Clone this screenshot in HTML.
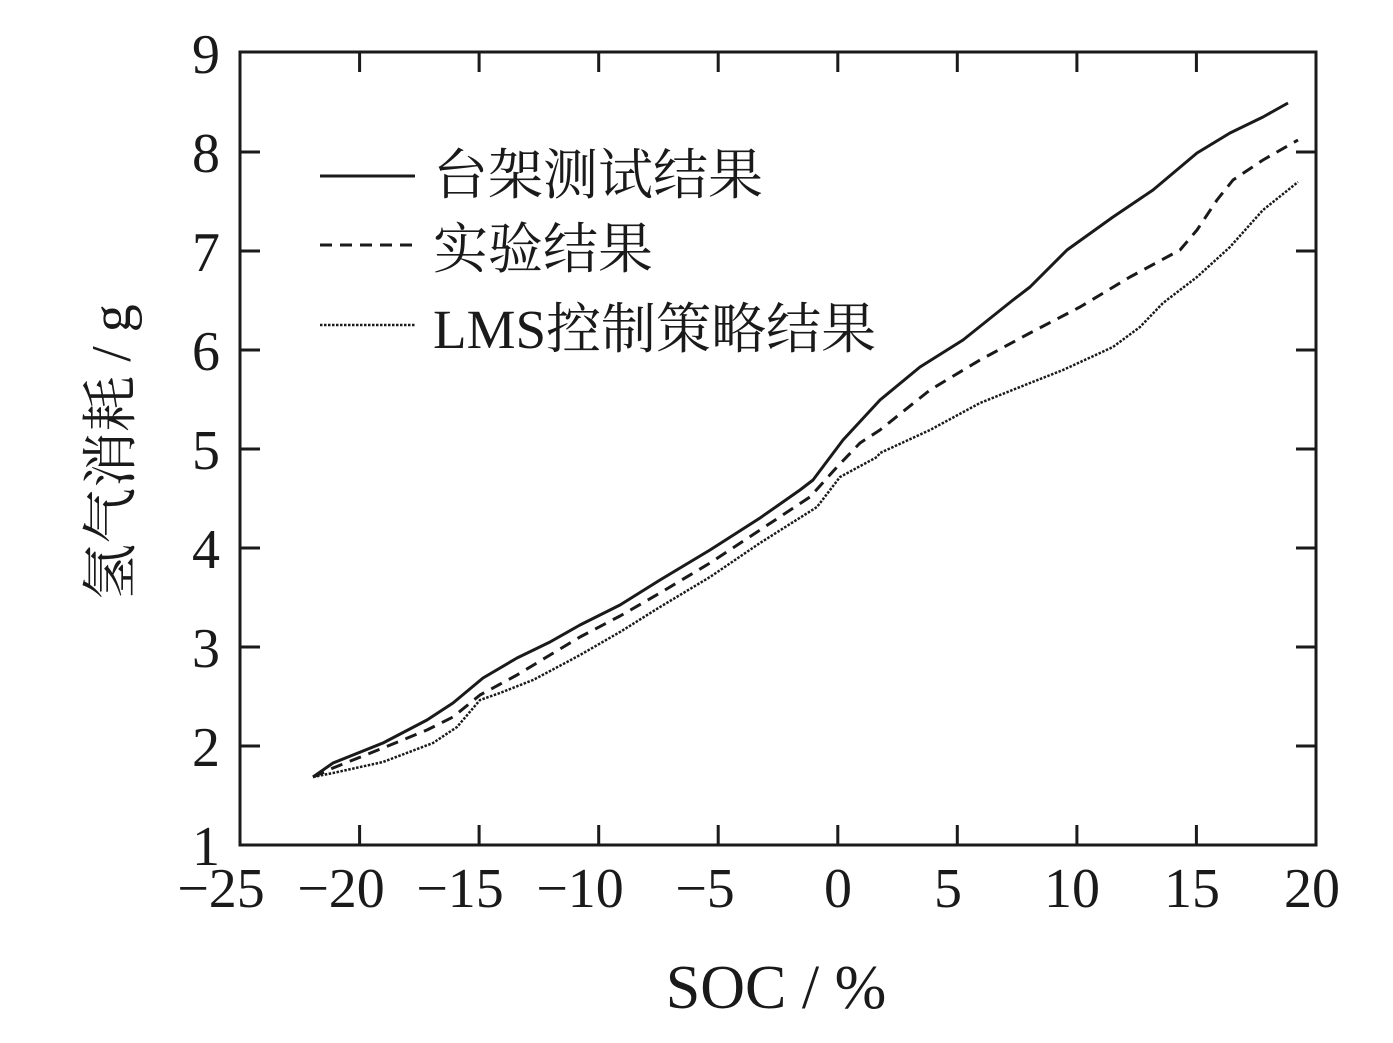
<!DOCTYPE html>
<html><head><meta charset="utf-8"><style>
html,body{margin:0;padding:0;background:#fff;}
svg{display:block;}
text{font-family:"Liberation Serif","Noto Serif CJK SC",serif;fill:#1a1a1a;}
</style></head><body>
<svg width="1393" height="1043" viewBox="0 0 1393 1043">
<g stroke="#1a1a1a" stroke-width="3" fill="none">
<rect x="240" y="52" width="1076" height="793"/>
<path d="M359.6,845v-20M479.1,845v-20M598.7,845v-20M718.2,845v-20M837.8,845v-20M957.3,845v-20M1076.9,845v-20M1196.4,845v-20
M359.6,52v20M479.1,52v20M598.7,52v20M718.2,52v20M837.8,52v20M957.3,52v20M1076.9,52v20M1196.4,52v20
M240,746h20M240,647h20M240,548h20M240,449h20M240,350h20M240,251h20M240,152h20
M1316,746h-20M1316,647h-20M1316,548h-20M1316,449h-20M1316,350h-20M1316,251h-20M1316,152h-20"/>
</g>
<g fill="none" stroke="#1a1a1a" stroke-linejoin="round">
<polyline stroke-width="3" points="313,777 333,763 383,743 427,720 453,703 483,678 517,658 550,642 580,625 620,605 660,580 710,550 760,518 800,490 813,480 843,440 880,400 920,367 963,340 1013,300 1030,287 1067,250 1113,217 1153,190 1197,153 1230,133 1263,117 1288,103"/>
<polyline stroke-width="3" stroke-dasharray="12,8" points="313,777 333,768 383,748 427,730 453,717 480,695 517,675 550,655 580,637 620,616 660,593 710,563 760,530 810,497 837,467 860,443 880,430 930,390 980,360 1030,333 1080,307 1130,277 1180,250 1197,230 1217,200 1233,180 1263,160 1298,140"/>
<polyline stroke-width="2.5" stroke-dasharray="2.5,1.5" points="313,777 333,773 383,762 433,743 457,727 480,700 500,693 533,680 567,662 580,655 620,632 660,607 710,577 760,543 817,507 840,477 877,457 880,453 930,430 980,403 1030,383 1063,370 1113,347 1140,327 1163,303 1197,277 1230,247 1263,210 1298,182"/>
<line x1="320" y1="176" x2="415" y2="176" stroke-width="3"/>
<line x1="320" y1="245" x2="415" y2="245" stroke-width="3" stroke-dasharray="12,8"/>
<line x1="320" y1="325" x2="415" y2="325" stroke-width="2.5" stroke-dasharray="2.5,1.5"/>
</g>
<g font-size="55">
<text x="433" y="194">台架测试结果</text>
<text x="433" y="268">实验结果</text>
<text x="433" y="348">LMS控制策略结果</text>
</g>
<g font-size="56" text-anchor="end">
<text x="220" y="865">1</text><text x="220" y="766">2</text><text x="220" y="667">3</text><text x="220" y="568">4</text><text x="220" y="469">5</text><text x="220" y="370">6</text><text x="220" y="271">7</text><text x="220" y="172">8</text><text x="220" y="73">9</text>
</g>
<g font-size="56" text-anchor="middle">
<text x="221" y="907">−25</text><text x="341" y="907">−20</text><text x="460" y="907">−15</text><text x="580" y="907">−10</text><text x="705" y="907">−5</text><text x="838" y="907">0</text><text x="948" y="907">5</text><text x="1072" y="907">10</text><text x="1192" y="907">15</text><text x="1312" y="907">20</text>
</g>
<text x="776" y="1008" font-size="62" text-anchor="middle">SOC / %</text>
<text transform="translate(130,452) rotate(-90)" font-size="56" text-anchor="middle">氢气消耗 / g</text>
</svg>
</body></html>
